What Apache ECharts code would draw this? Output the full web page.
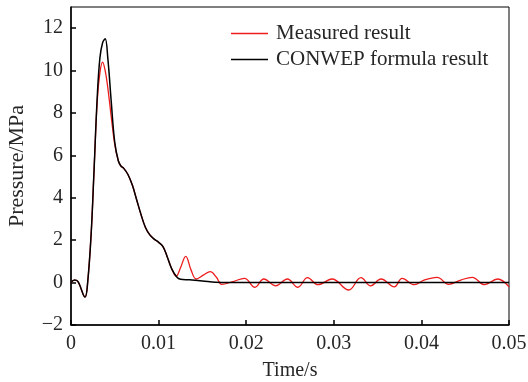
<!DOCTYPE html>
<html><head><meta charset="utf-8">
<script src="https://cdn.jsdelivr.net/npm/echarts@6/dist/echarts.min.js"></script>
<style>html,body{margin:0;padding:0;background:#fff}#c{width:528px;height:382px}</style>
</head><body><div id="c"></div>
<script>
var seriesNames = ['Measured result', 'CONWEP formula result'];
var xTicks = [0, 0.01, 0.02, 0.03, 0.04, 0.05];
var yTicks = [-2, 0, 2, 4, 6, 8, 10, 12];

var timeConwep = [0, 0.0004, 0.0008, 0.0016, 0.0019, 0.0023, 0.0026, 0.0030, 0.0033, 0.0036, 0.0039, 0.0042, 0.0046, 0.0050, 0.0054, 0.0057, 0.0060, 0.0065, 0.0070, 0.0075, 0.0080, 0.0085, 0.0090, 0.0095, 0.0100, 0.0105, 0.0110, 0.0115, 0.0121, 0.0125, 0.0135, 0.0150, 0.0165, 0.0180, 0.0250, 0.0350, 0.0500];
var conwep = [0, 0.12, 0.05, -0.68, 0, 2.3, 5, 8.8, 10.6, 11.3, 11.5, 10.6, 8.5, 6.6, 5.75, 5.5, 5.4, 5.1, 4.6, 3.9, 3.2, 2.6, 2.25, 2.05, 1.9, 1.7, 1.2, 0.65, 0.25, 0.16, 0.13, 0.08, 0.02, 0, 0, 0, 0];

var timeMeasured = [0, 0.0004, 0.0008, 0.0016, 0.0019, 0.0023, 0.0026, 0.0030, 0.0033, 0.0036, 0.0039, 0.0042, 0.0046, 0.0050, 0.0054, 0.0057, 0.0060, 0.0065, 0.0070, 0.0075, 0.0080, 0.0085, 0.0090, 0.0095, 0.0100, 0.0105, 0.0110, 0.0115, 0.0120, 0.0125, 0.0131, 0.0137, 0.0143, 0.0151, 0.0159, 0.0166, 0.0172, 0.0185, 0.0198, 0.0210, 0.0220, 0.02337, 0.0247, 0.0259, 0.0270, 0.0282, 0.0298, 0.0317, 0.0331, 0.0342, 0.0354, 0.0369, 0.0378, 0.0392, 0.0403, 0.0418, 0.0431, 0.0445, 0.0458, 0.0472, 0.0487, 0.0500];
var measured = [0, 0.12, 0.05, -0.68, 0, 2.3, 5, 8.6, 9.9, 10.4, 10.0, 9.2, 7.8, 6.5, 5.75, 5.5, 5.4, 5.1, 4.6, 3.9, 3.2, 2.6, 2.25, 2.05, 1.9, 1.7, 1.2, 0.65, 0.3, 0.7, 1.24, 0.6, 0.17, 0.35, 0.52, 0.25, -0.08, 0.05, 0.2, -0.22, 0.17, -0.15, 0.17, -0.22, 0.23, -0.1, 0.17, -0.35, 0.23, -0.15, 0.17, -0.2, 0.2, -0.1, 0.12, 0.25, -0.08, 0.12, 0.25, -0.1, 0.17, -0.2];

function pairs(xs, ys) { return xs.map(function (x, i) { return [x, ys[i]]; }); }

var font = 'Liberation Serif';
var txt = '#262626';
var chart = echarts.init(document.getElementById('c'), null, {renderer: 'canvas'});
chart.setOption({
  animation: false,
  backgroundColor: '#fff',
  grid: {left: 71, right: 19, top: 7, bottom: 57, show: true, borderColor: '#000', borderWidth: 1,
         containLabel: false, outerBoundsMode: 'none'},
  legend: {
    orient: 'vertical', left: 226, top: 18, itemWidth: 37, itemHeight: 1.5, itemGap: 5,
    icon: 'rect',
    data: seriesNames,
    textStyle: {fontFamily: font, fontSize: 21, color: txt, padding: [0, 0, 0, 3]}
  },
  xAxis: {
    type: 'value', min: 0, max: 0.05, interval: 0.01,
    name: 'Time/s', nameLocation: 'middle', nameGap: 36,
    nameTextStyle: {fontFamily: font, fontSize: 20, color: txt},
    axisLine: {onZero: false, lineStyle: {color: '#000', width: 1.5}},
    axisTick: {inside: true, length: 5, lineStyle: {color: '#000', width: 1.5}},
    axisLabel: {fontFamily: font, fontSize: 20, color: txt, margin: 9,
      formatter: function (v) { return String(+v.toFixed(2)); }},
    splitLine: {show: false}
  },
  yAxis: {
    type: 'value', min: -2, max: 13, interval: 2,
    name: 'Pressure/MPa', nameLocation: 'middle', nameGap: 43,
    nameTextStyle: {fontFamily: font, fontSize: 22, color: txt},
    axisLine: {onZero: false, lineStyle: {color: '#000', width: 1.5}},
    axisTick: {inside: true, length: 5, lineStyle: {color: '#000', width: 1.5}},
    axisLabel: {fontFamily: font, fontSize: 20, color: txt, margin: 8,
      showMaxLabel: false,
      formatter: function (v) { return String(v).replace('-', '\u2212'); }},
    splitLine: {show: false}
  },
  series: [
    {name: seriesNames[0], type: 'line', data: pairs(timeMeasured, measured), smooth: 0.4, symbol: 'none',
     lineStyle: {color: '#ee1c1c', width: 1.3}, itemStyle: {color: '#ee1c1c'}, z: 2},
    {name: seriesNames[1], type: 'line', data: pairs(timeConwep, conwep), smooth: 0.4, symbol: 'none',
     lineStyle: {color: '#000', width: 1.5}, itemStyle: {color: '#000'}, z: 3}
  ]
});
</script></body></html>
